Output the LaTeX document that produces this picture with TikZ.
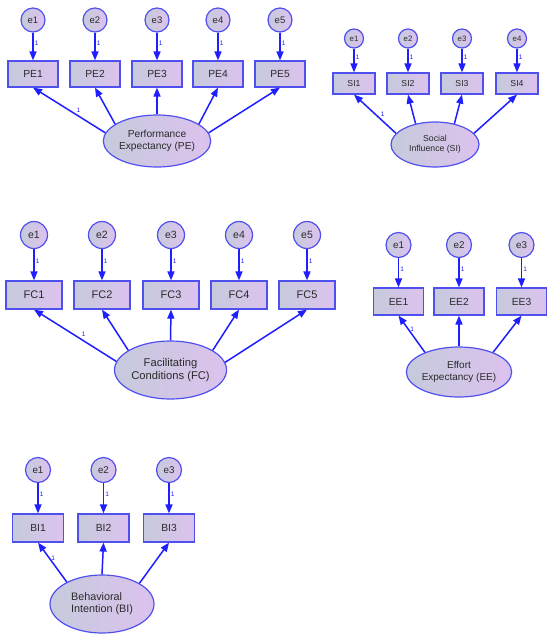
\documentclass[tikz,border=0pt]{standalone}
\usepackage{fontspec}
\setmainfont{Liberation Sans}
\usetikzlibrary{shapes.geometric,arrows.meta}
\definecolor{shA}{HTML}{C6CADC}
\definecolor{shB}{HTML}{DCC2EE}
\definecolor{bord}{HTML}{5050EE}
\definecolor{arrblue}{HTML}{1E1EFF}
\definecolor{txt}{HTML}{2A2A2A}
\tikzset{
  shd/.style={draw=bord, line width=1.2pt, left color=shA, right color=shB, text=txt, inner sep=0pt},
  lat/.style={shd, ellipse, align=center},
  obs/.style={shd, rectangle},
  err/.style={shd, circle},
  arr/.style={draw=arrblue, line width=1.5pt, -{Triangle[length=9pt,width=7pt]}},
  one/.style={font=\fontsize{6.5}{6.5}\selectfont, text=arrblue, inner sep=1pt},
}
\newcommand{\fs}[2]{\fontsize{#1}{#2}\selectfont}
\begin{document}
\begin{tikzpicture}[x=1pt,y=-1pt]
\useasboundingbox (0,0) rectangle (550,635);
\fill[white] (0,0) rectangle (550,635);

% ---------- PE ----------
\node[lat, minimum width=102pt, minimum height=52pt, font=\fs{10.2}{11.7}] (PE) at (157,141) {Performance\\Expectancy (PE)};
\foreach \i/\x in {1/33,2/95,3/157,4/218,5/280}{
  \node[obs, minimum width=50pt, minimum height=26pt, font=\fs{10.3}{12}] (PE\i) at (\x,74) {PE\i};
  \node[err, minimum size=24pt, font=\fs{9.5}{10}] (PEe\i) at (\x,20) {e\i};
  \draw[arr] (PEe\i) -- node[one, right, pos=0.38]{1} (PE\i);
}
\draw[arr] (PE.171) -- node[one, above right, pos=0.42]{1} (PE1.south);
\draw[arr] (PE.158) -- (PE2.south);
\draw[arr] (PE.90) -- (PE3.south);
\draw[arr] (PE.22) -- (PE4.south);
\draw[arr] (PE.9.5) -- (PE5.south);

% ---------- SI ----------
\node[lat, minimum width=88pt, minimum height=45pt, font=\fs{8.7}{10}] (SI) at (435,144.5) {Social\\Influence (SI)};
\foreach \i/\x in {1/354,2/408,3/462,4/517}{
  \node[obs, minimum width=42pt, minimum height=21pt, font=\fs{8.7}{10}] (SI\i) at (\x,83.5) {SI\i};
  \node[err, minimum size=19pt, font=\fs{7.8}{9}] (SIe\i) at (\x,38.5) {e\i};
  \draw[arr] (SIe\i) -- node[one, right, pos=0.38]{1} (SI\i);
}
\draw[arr] (SI.164) -- node[one, above right, pos=0.4]{1} (SI1.south);
\draw[arr] (SI.133) -- (SI2.south);
\draw[arr] (SI.47) -- (SI3.south);
\draw[arr] (SI.16) -- (SI4.south);

% ---------- FC ----------
\node[lat, minimum width=112pt, minimum height=58pt, font=\fs{11.2}{12.7}] (FC) at (170.5,370) {Facilitating\\Conditions (FC)};
\foreach \i/\x in {1/34,2/102,3/171,4/239,5/307}{
  \node[obs, minimum width=56pt, minimum height=28pt, font=\fs{11}{12}] (FC\i) at (\x,295) {FC\i};
  \node[err, minimum size=27pt, font=\fs{10.5}{12}] (FCe\i) at (\x,235) {e\i};
  \draw[arr] (FCe\i) -- node[one, right, pos=0.4]{1} (FC\i);
}
\draw[arr] (FC.171.5) -- node[one, above right, pos=0.44]{1} (FC1.south);
\draw[arr] (FC.155) -- (FC2.south);
\draw[arr] (FC.90) -- (FC3.south);
\draw[arr] (FC.25) -- (FC4.south);
\draw[arr] (FC.8.5) -- (FC5.south);

% ---------- EE ----------
\node[lat, minimum width=100pt, minimum height=50pt, font=\fs{10}{12.3}] (EE) at (459,372) {Effort\\Expectancy (EE)};
\foreach \i/\x in {1/398.5,2/459,3/521.5}{
  \node[obs, minimum width=50pt, minimum height=27pt, font=\fs{10.3}{12}] (EE\i) at (\x,301.5) {EE\i};
  \node[err, minimum size=25pt, font=\fs{9.8}{11}] (EEe\i) at (\x,245) {e\i};
  \draw[arr] (EEe\i) -- node[one, right, pos=0.38]{1} (EE\i);
}
\draw[arr] (EE.150) -- node[one, right, pos=0.62]{1} (EE1.south);
\draw[arr] (EE.90) -- (EE2.south);
\draw[arr] (EE.30) -- (EE3.south);

% ---------- BI ----------
\node[lat, align=left, minimum width=104pt, minimum height=58pt, font=\fs{10.8}{12}] (BI) at (102,604) {Behavioral\\Intention (BI)};
\foreach \i/\x in {1/38,2/103.5,3/169}{
  \node[obs, minimum width=51pt, minimum height=28pt, font=\fs{10.3}{12}] (BI\i) at (\x,528) {BI\i};
  \node[err, minimum size=25pt, font=\fs{9.8}{11}] (BIe\i) at (\x,470) {e\i};
  \draw[arr] (BIe\i) -- node[one, right, pos=0.36]{1} (BI\i);
}
\draw[arr] (BI.148) -- node[one, right, pos=0.6]{1} (BI1.south);
\draw[arr] (BI.90) -- (BI2.south);
\draw[arr] (BI.29) -- (BI3.south);
\end{tikzpicture}
\end{document}
